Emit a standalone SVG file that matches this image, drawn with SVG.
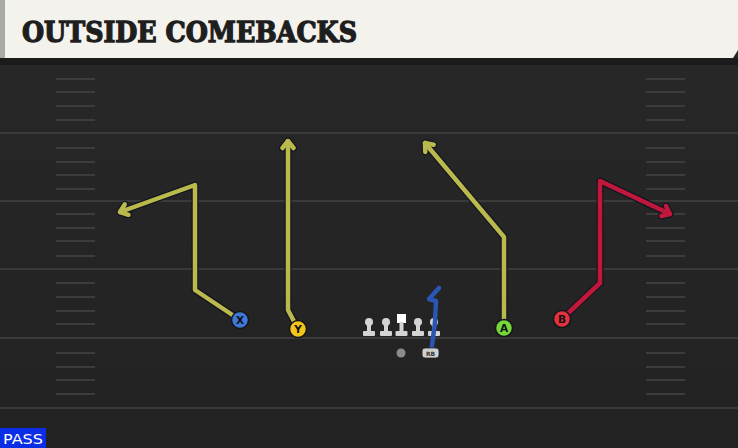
<svg xmlns="http://www.w3.org/2000/svg" width="738" height="448" viewBox="0 0 738 448">
<style>
.yard{stroke:#3a3a3a;stroke-width:2}
.hash{stroke:#3c3c3c;stroke-width:2}
.under{fill:none;stroke:#151520;stroke-width:7;stroke-linejoin:round;stroke-linecap:round}
.yel{fill:none;stroke:#b9b94c;stroke-width:4.5;stroke-linejoin:round;stroke-linecap:round}
.red{fill:none;stroke:#c0173b;stroke-width:4.5;stroke-linejoin:round;stroke-linecap:round}
.blue{fill:none;stroke:#2b55b3;stroke-width:4.5;stroke-linejoin:round;stroke-linecap:round}
.pc{stroke:#15151a;stroke-width:1.5}
.pl{font-family:"DejaVu Sans","Liberation Sans",sans-serif;font-weight:bold;font-size:10.5px;fill:#111;text-anchor:middle}
.ol{fill:#d4d4d4}
</style>
<defs>
<marker id="ay" viewBox="-10 -8 12 16" markerWidth="12" markerHeight="16" refX="0" refY="0" orient="auto" markerUnits="userSpaceOnUse"><path d="M-7,-5.5 L0,0 L-7,5.5" fill="none" stroke="#b9b94c" stroke-width="4.5" stroke-linecap="round" stroke-linejoin="round"/></marker>
<marker id="ar" viewBox="-10 -8 12 16" markerWidth="12" markerHeight="16" refX="0" refY="0" orient="auto" markerUnits="userSpaceOnUse"><path d="M-7,-5.5 L0,0 L-7,5.5" fill="none" stroke="#c0173b" stroke-width="4.5" stroke-linecap="round" stroke-linejoin="round"/></marker>
<marker id="ad" viewBox="-11 -9 14 18" markerWidth="14" markerHeight="18" refX="0" refY="0" orient="auto" markerUnits="userSpaceOnUse"><path d="M-7,-5.5 L0,0 L-7,5.5" fill="none" stroke="#151520" stroke-width="7" stroke-linecap="round" stroke-linejoin="round"/></marker>
<linearGradient id="bg" x1="0" y1="0" x2="0" y2="1"><stop offset="0" stop-color="#282828"/><stop offset="1" stop-color="#222"/></linearGradient>
</defs>
<rect width="738" height="448" fill="url(#bg)"/>
<g id="field">
<rect x="0" y="58" width="738" height="7" fill="#1b1b1b"/>
<line class="yard" x1="0" y1="133" x2="738" y2="133"/>
<line class="yard" x1="0" y1="201" x2="738" y2="201"/>
<line class="yard" x1="0" y1="269" x2="738" y2="269"/>
<line class="yard" x1="0" y1="338" x2="738" y2="338"/>
<line class="yard" x1="0" y1="408" x2="738" y2="408"/>
<g class="hash">
<path d="M56,79H95M56,92H95M56,106H95M56,120H95M56,148H95M56,162H95M56,175H95M56,189H95M56,214H95M56,228H95M56,241H95M56,256H95M56,283H95M56,297H95M56,311H95M56,324H95M56,353H95M56,367H95M56,380H95M56,394H95"/>
<path d="M646,79H685M646,92H685M646,106H685M646,120H685M646,148H685M646,162H685M646,175H685M646,189H685M646,214H685M646,228H685M646,241H685M646,256H685M646,283H685M646,297H685M646,311H685M646,324H685M646,353H685M646,367H685M646,380H685M646,394H685"/>
</g>
</g>
<g id="header">
<path d="M0,0H738V50L733,58H0Z" fill="#f4f2ec"/>
<rect x="0" y="0" width="5" height="58" fill="#a9a9a6"/>
<text x="22" y="42" font-family="'DejaVu Serif','Liberation Serif',serif" font-weight="bold" font-size="27" fill="#1e1e1e" stroke="#1e1e1e" stroke-width="1.3" textLength="335" lengthAdjust="spacingAndGlyphs">OUTSIDE COMEBACKS</text>
</g>
<g id="connectors">
<path class="under" d="M240,320 L195,290 L195,185 L120,212" marker-end="url(#ad)"/>
<path class="yel" d="M240,320 L195,290 L195,185 L120,212" marker-end="url(#ay)"/>
<path class="under" d="M298,329 L288,310 L288,141" marker-end="url(#ad)"/>
<path class="yel" d="M298,329 L288,310 L288,141" marker-end="url(#ay)"/>
<path class="under" d="M504,328 L504,237 L425,143" marker-end="url(#ad)"/>
<path class="yel" d="M504,328 L504,237 L425,143" marker-end="url(#ay)"/>
<path class="under" d="M562,319 L600,283 L600,181 L670,214" marker-end="url(#ad)"/>
<path class="red" d="M562,319 L600,283 L600,181 L670,214" marker-end="url(#ar)"/>
</g>
<g id="line">
<g id="lt"><circle class="ol" cx="369" cy="322" r="4"/><rect class="ol" x="367" y="322" width="4" height="10"/><rect class="ol" x="363" y="331" width="12" height="5" rx="1"/></g>
<g id="lg"><circle class="ol" cx="386" cy="322" r="4"/><rect class="ol" x="384" y="322" width="4" height="10"/><rect class="ol" x="380" y="331" width="12" height="5" rx="1"/></g>
<g id="c"><rect x="397" y="314" width="9" height="9" fill="#fff"/><rect class="ol" x="399.5" y="322" width="4" height="10"/><rect class="ol" x="395.5" y="331" width="12" height="5" rx="1"/></g>
<g id="rg"><circle class="ol" cx="418" cy="322" r="4"/><rect class="ol" x="416" y="322" width="4" height="10"/><rect class="ol" x="412" y="331" width="12" height="5" rx="1"/></g>
<g id="rt"><circle class="ol" cx="434" cy="322" r="4"/><rect class="ol" x="432" y="322" width="4" height="10"/><rect class="ol" x="428" y="331" width="12" height="5" rx="1"/></g>
</g>
<g id="rb-route"><path class="blue" d="M431,354 L435,322 L436,301 L429,299 L439,288"/></g>
<g id="qb"><circle cx="401" cy="353" r="4.5" fill="#8a8a8a"/></g>
<g id="rb"><rect x="422" y="348" width="17" height="10" rx="3" fill="#cfcfcf" stroke="#222" stroke-width="0.8"/><text x="430.5" y="356" font-family="'DejaVu Sans',sans-serif" font-weight="bold" font-size="6" fill="#333" text-anchor="middle">RB</text></g>
<g id="X"><circle class="pc" cx="240" cy="320" r="8.5" fill="#3d78da"/><text class="pl" x="240" y="324">X</text></g>
<g id="Y"><circle class="pc" cx="298" cy="329" r="8.5" fill="#f3c41c"/><text class="pl" x="298" y="333">Y</text></g>
<g id="A"><circle class="pc" cx="504" cy="328" r="8.5" fill="#74d63c"/><text class="pl" x="504" y="332">A</text></g>
<g id="B"><circle class="pc" cx="562" cy="319" r="8.5" fill="#e2323e"/><text class="pl" x="562" y="323">B</text></g>
<g id="pass"><rect x="0" y="428" width="46" height="20" fill="#0b2de6"/><text x="3" y="444" font-family="'DejaVu Sans','Liberation Sans',sans-serif" font-size="14" fill="#fff" textLength="40" lengthAdjust="spacingAndGlyphs">PASS</text></g>
</svg>
